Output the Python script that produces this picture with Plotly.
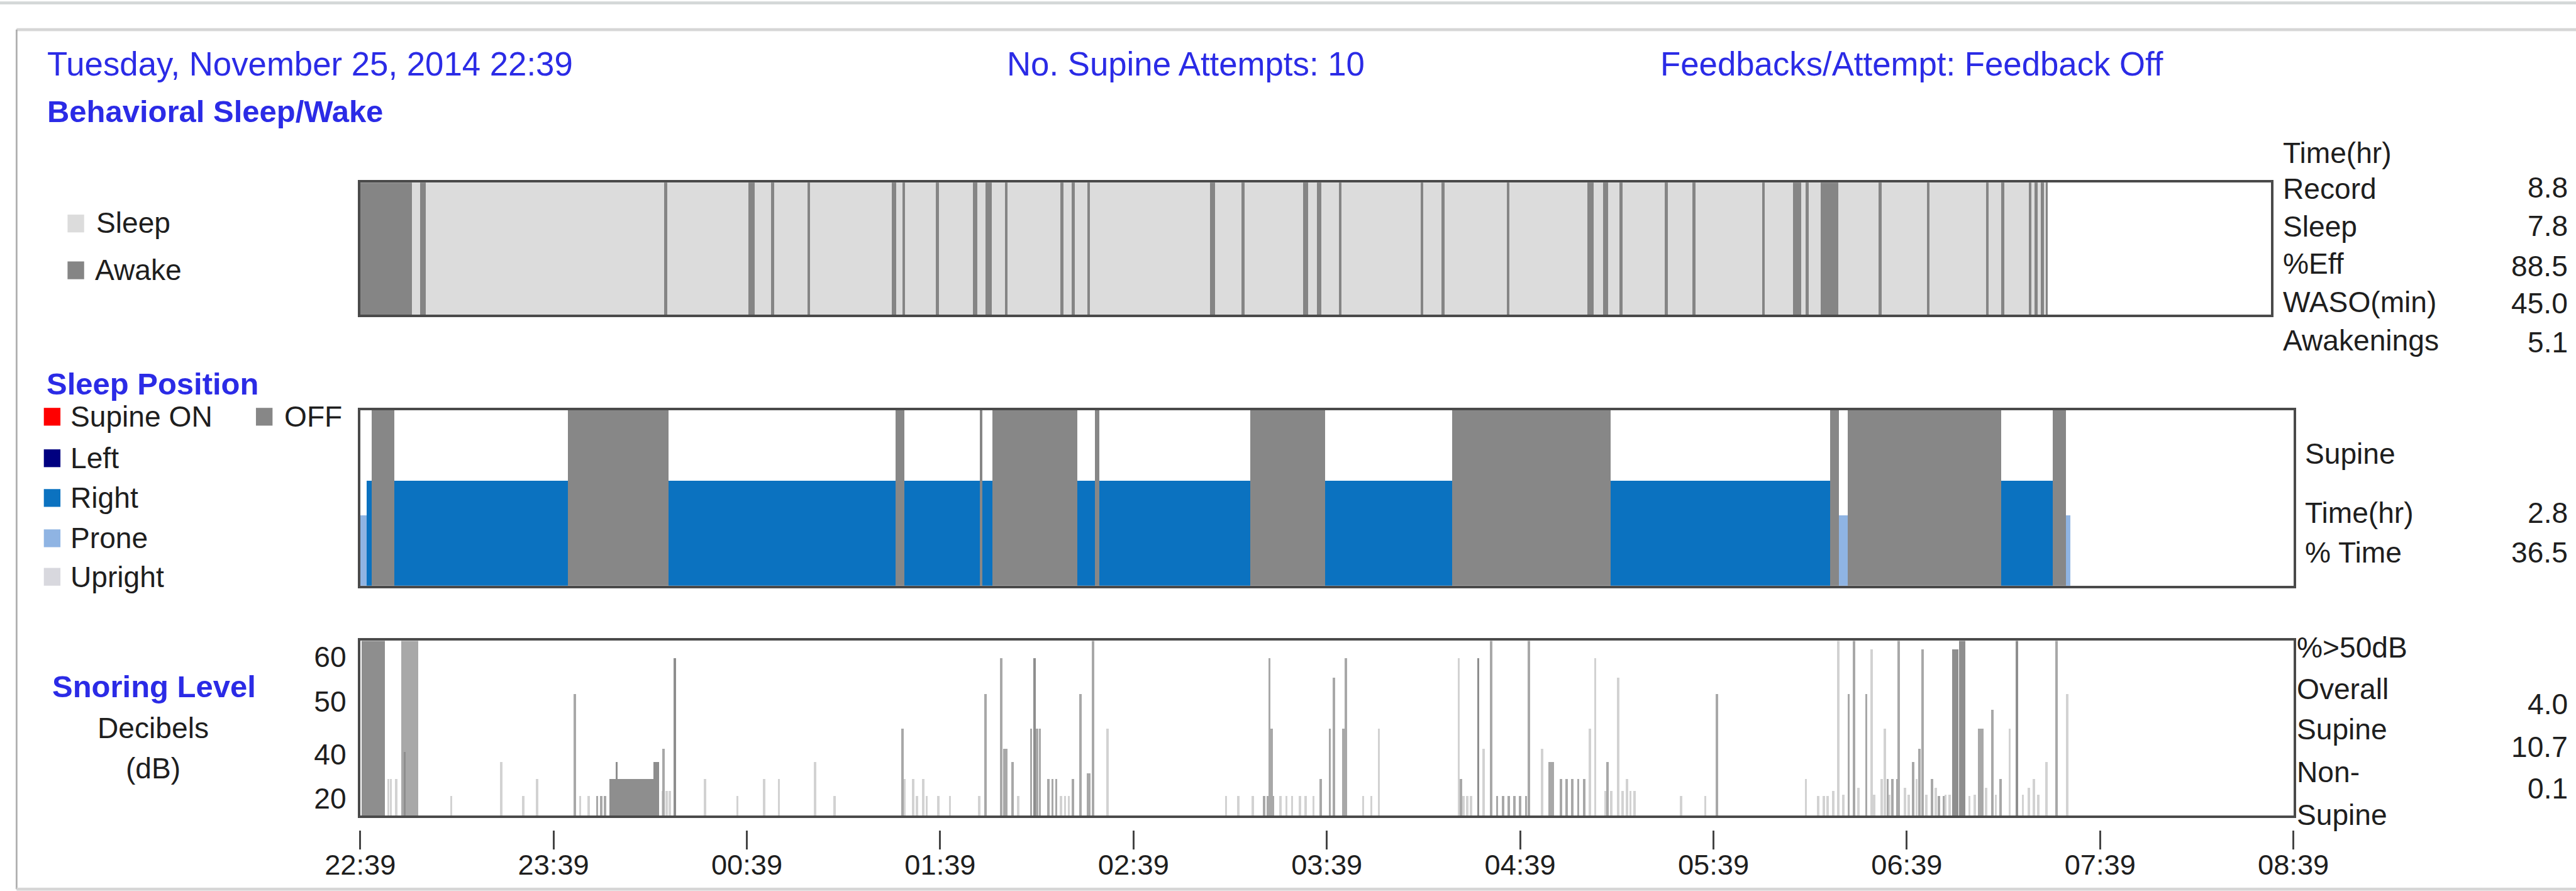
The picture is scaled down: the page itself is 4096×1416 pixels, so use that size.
import plotly.graph_objects as go

# ---------------- data (hours after 22:39) ----------------
tick_hours = [0, 1, 2, 3, 4, 5, 6, 7, 8, 9, 10]
tick_labels = ["22:39", "23:39", "00:39", "01:39", "02:39", "03:39",
               "04:39", "05:39", "06:39", "07:39", "08:39"]

record_end = 8.83
awake_start = [0.000, 0.313, 1.590, 2.031, 2.151, 2.340, 2.781, 2.836, 3.013, 3.206,
               3.271, 3.373, 3.664, 3.723, 3.804, 4.447, 4.613, 4.933, 5.008, 5.122,
               5.550, 5.658, 5.999, 6.422, 6.505, 6.591, 6.827, 6.973, 7.336, 7.498,
               7.565, 7.643, 7.946, 8.198, 8.508, 8.588, 8.731, 8.762, 8.796, 8.821]
awake_end = [0.270, 0.341, 1.605, 2.065, 2.166, 2.355, 2.803, 2.851, 3.028, 3.228,
             3.305, 3.388, 3.679, 3.738, 3.819, 4.474, 4.628, 4.961, 5.030, 5.136,
             5.564, 5.673, 6.014, 6.456, 6.530, 6.606, 6.842, 6.988, 7.350, 7.541,
             7.580, 7.736, 7.961, 8.212, 8.522, 8.603, 8.745, 8.777, 8.811, 8.830]

pos_start = [0.000, 0.031, 0.058, 0.175, 1.073, 1.594, 2.770, 2.813, 3.203, 3.218,
             3.270, 3.708, 3.800, 3.822, 4.603, 4.992, 5.648, 6.466, 7.603, 7.647,
             7.695, 8.489, 8.753, 8.823]
pos_end = [0.031, 0.058, 0.175, 1.073, 1.594, 2.770, 2.813, 3.203, 3.218, 3.270,
           3.708, 3.800, 3.822, 4.603, 4.992, 5.648, 6.466, 7.603, 7.647, 7.695,
           8.489, 8.753, 8.823, 8.845]
pos_state = ["Prone", "Right", "OFF", "Right", "OFF", "Right", "OFF", "Right", "OFF", "Right",
             "OFF", "Right", "OFF", "Right", "OFF", "Right", "OFF", "Right", "OFF", "Prone",
             "OFF", "Right", "OFF", "Prone"]
pos_level = {"OFF": 1.0, "Right": 0.6, "Prone": 0.4}

# snoring spikes: time (h) and level (dB); thin spikes share one width
spike_w = 0.012
snore_light_t = [0.145, 0.158, 0.186, 0.470, 0.728, 0.842, 0.915, 1.137, 1.180, 1.565,
                 1.585, 1.600, 1.782, 1.950, 2.089, 2.165, 2.352, 2.453, 2.814, 2.860,
                 2.880, 2.911, 2.930, 2.990, 3.050, 3.201, 3.402, 3.625, 3.645, 3.665,
                 3.865, 4.478, 4.542, 4.617, 4.760, 4.790, 4.820, 4.860, 4.890, 4.930,
                 5.187, 5.230, 5.269, 5.682, 5.705, 5.725, 5.745, 5.811, 6.112, 6.360,
                 6.388, 6.440, 6.470, 6.506, 6.530, 6.553, 6.570, 6.590, 6.832, 6.957,
                 7.478, 7.540, 7.570, 7.590, 7.620, 7.646, 7.670, 7.750, 7.818, 7.830,
                 7.870, 7.886, 7.910, 7.990, 8.010, 8.050, 8.100, 8.150, 8.200, 8.220,
                 8.323, 8.350, 8.410, 8.460, 8.532, 8.600, 8.630, 8.656, 8.680, 8.721,
                 8.829]
snore_light_db = [25.5, 25.5, 25.5, 20.7, 30.2, 20.7, 25.5, 20.7, 20.7, 22.0,
                  22.0, 22.0, 25.5, 20.7, 25.5, 25.5, 30.2, 20.7, 25.5, 25.5,
                  20.7, 25.5, 20.7, 20.7, 20.7, 20.7, 20.7, 20.7, 20.7, 20.7,
                  39.6, 20.7, 20.7, 20.7, 20.7, 20.7, 20.7, 20.7, 20.7, 20.7,
                  20.7, 20.7, 39.6, 59.5, 20.7, 20.7, 20.7, 34.0, 34.0, 39.6,
                  59.5, 22.0, 22.0, 54.0, 22.0, 25.5, 22.0, 22.0, 20.7, 20.7,
                  25.5, 20.7, 20.7, 20.7, 22.0, 66.0, 21.0, 23.0, 62.0, 21.0,
                  25.5, 39.6, 21.0, 23.0, 21.0, 25.5, 21.0, 23.0, 21.0, 21.0,
                  20.7, 21.0, 23.0, 21.0, 39.6, 21.0, 23.0, 25.5, 21.0, 30.2,
                  49.5]

snore_mid_t = [0.255, 1.109, 1.225, 1.245, 1.265, 1.567, 2.804, 3.234, 3.315, 3.330,
               3.338, 3.374, 3.470, 3.500, 3.515, 3.560, 3.580, 3.600, 3.686, 3.725,
               3.768, 3.789, 4.675, 4.695, 4.703, 4.714, 4.720, 4.968, 5.015, 5.037,
               5.084, 5.097, 5.693, 5.850, 5.880, 5.910, 5.940, 5.970, 6.000, 6.030,
               6.044, 6.160, 6.210, 6.240, 6.270, 6.300, 6.330, 6.452, 7.017, 7.699,
               7.727, 7.790, 7.900, 7.925, 7.950, 7.957, 8.033, 8.065, 8.080, 8.129,
               8.165, 8.190, 8.383, 8.441, 8.484, 8.775]
snore_mid_w = [0.086, 0.012, 0.012, 0.012, 0.012, 0.012, 0.012, 0.012, 0.012, 0.012,
               0.020, 0.012, 0.012, 0.012, 0.012, 0.012, 0.012, 0.012, 0.012, 0.012,
               0.020, 0.012, 0.012, 0.012, 0.012, 0.012, 0.012, 0.012, 0.012, 0.012,
               0.012, 0.012, 0.012, 0.012, 0.012, 0.012, 0.012, 0.012, 0.012, 0.012,
               0.012, 0.030, 0.012, 0.012, 0.012, 0.012, 0.012, 0.012, 0.012, 0.012,
               0.012, 0.012, 0.012, 0.012, 0.012, 0.012, 0.012, 0.012, 0.012, 0.012,
               0.012, 0.012, 0.030, 0.012, 0.012, 0.012]
snore_mid_db = [66.0, 49.5, 20.7, 20.7, 20.7, 34.0, 39.6, 49.5, 59.5, 34.0,
                34.0, 30.2, 39.6, 39.6, 39.6, 25.5, 25.5, 25.5, 25.5, 49.5,
                27.0, 66.0, 20.7, 20.7, 59.5, 39.6, 20.7, 25.5, 39.6, 54.0,
                39.6, 59.5, 25.5, 66.0, 20.7, 20.7, 20.7, 20.7, 20.7, 20.7,
                66.0, 30.2, 25.5, 25.5, 25.5, 25.5, 25.5, 30.2, 49.5, 49.5,
                66.0, 49.5, 25.5, 25.5, 25.5, 66.0, 30.2, 34.0, 62.0, 25.5,
                20.7, 20.7, 39.6, 45.0, 25.5, 66.0]

snore_dark_t = [0.067, 0.229, 1.326, 1.405, 1.530, 1.627, 3.488, 5.783, 8.250, 8.286, 8.570]
snore_dark_w = [0.118, 0.012, 0.012, 0.236, 0.030, 0.012, 0.012, 0.012, 0.030, 0.035, 0.012]
snore_dark_db = [66.0, 33.0, 30.2, 25.5, 30.2, 59.5, 59.5, 59.5, 62.0, 66.0, 66.0]

db_tick_vals = [60, 47.4, 32.4, 20]
db_tick_text = ["60", "50", "40", "20"]

sleep_stats_labels = ["Record", "Sleep", "%Eff", "WASO(min)", "Awakenings"]
sleep_stats_values = ["8.8", "7.8", "88.5", "45.0", "5.1"]
supine_labels = ["Time(hr)", "% Time"]
supine_values = ["2.8", "36.5"]
snore_labels = ["Overall", "Supine", "Non-", "Supine"]
snore_values = ["4.0", "10.7", "0.1"]

# ---------------- layout helpers ----------------
S = 0.942
RW, RH = 4348, 1503
FONT = "Liberation Sans, Arial, sans-serif"
BLUE = "#2b2be6"
INK = "#1e1e1e"


def px(X):
    return X / RW


def py(Y):
    return 1 - Y / RH


annotations = []


def ann(text, X, Y, size=49, color=INK, xanchor="left", bold=False):
    annotations.append(dict(
        text=f"<b>{text}</b>" if bold else text,
        x=px(X), y=py(Y), xref="paper", yref="paper",
        xanchor=xanchor, yanchor="middle", showarrow=False,
        font=dict(family=FONT, size=size * S, color=color)))


shapes = []


def rect(X0, Y0, X1, Y1, color):
    shapes.append(dict(type="rect", xref="paper", yref="paper",
                       x0=px(X0), x1=px(X1), y0=py(Y1), y1=py(Y0),
                       fillcolor=color, line=dict(width=0), layer="above"))


def hline(X0, X1, Y, color, w):
    shapes.append(dict(type="line", xref="paper", yref="paper",
                       x0=px(X0), x1=px(X1), y0=py(Y), y1=py(Y),
                       line=dict(color=color, width=w * S)))


def vline(X, Y0, Y1, color, w):
    shapes.append(dict(type="line", xref="paper", yref="paper",
                       x0=px(X), x1=px(X), y0=py(Y0), y1=py(Y1),
                       line=dict(color=color, width=w * S)))


fig = go.Figure()

# ---- panel 1 : sleep / wake ----
fig.add_trace(go.Bar(x=[record_end / 2], y=[1], width=[record_end], base=0,
                     marker=dict(color="#dcdcdc", line=dict(width=0)),
                     xaxis="x", yaxis="y", hoverinfo="skip", showlegend=False))
fig.add_trace(go.Bar(x=[(a + b) / 2 for a, b in zip(awake_start, awake_end)],
                     y=[1] * len(awake_start),
                     width=[b - a for a, b in zip(awake_start, awake_end)], base=0,
                     marker=dict(color="#858585", line=dict(width=0)),
                     xaxis="x", yaxis="y", hoverinfo="skip", showlegend=False))

# ---- panel 2 : position ----
pos_colors = {"OFF": "#878787", "Right": "#0b72c0", "Prone": "#8fb4e3"}
for state in ["Right", "Prone", "OFF"]:
    idx = [i for i, s in enumerate(pos_state) if s == state]
    fig.add_trace(go.Bar(
        x=[(pos_start[i] + pos_end[i]) / 2 for i in idx],
        y=[pos_level[state]] * len(idx),
        width=[pos_end[i] - pos_start[i] for i in idx], base=0,
        marker=dict(color=pos_colors[state], line=dict(width=0)),
        xaxis="x2", yaxis="y2", hoverinfo="skip", showlegend=False))

# ---- panel 3 : snoring ----
for t, w, d, c in [(snore_light_t, [spike_w] * len(snore_light_t), snore_light_db, "#d2d2d2"),
                   (snore_mid_t, snore_mid_w, snore_mid_db, "#a8a8a8"),
                   (snore_dark_t, snore_dark_w, snore_dark_db, "#8e8e8e")]:
    fig.add_trace(go.Bar(x=t, y=d, width=w, base=0,
                         marker=dict(color=c, line=dict(width=0)),
                         xaxis="x3", yaxis="y3", hoverinfo="skip", showlegend=False))

# invisible trace to carry the free time axis
fig.add_trace(go.Scatter(x=[0, 10], y=[30, 30], mode="markers",
                         marker=dict(opacity=0), xaxis="x4", yaxis="y3",
                         hoverinfo="skip", showlegend=False))

frame = dict(showline=True, mirror=True, linecolor="#4a4a4a", linewidth=4 * S,
             showgrid=False, zeroline=False, ticks="", fixedrange=True, automargin=False)

x1_dom = [px(608), px(3833)]
x23_dom = [px(608), px(3871)]

fig.update_layout(
    width=4096, height=1416,
    margin=dict(l=0, r=0, t=0, b=0, pad=0, autoexpand=False),
    paper_bgcolor="white", plot_bgcolor="white",
    barmode="overlay", bargap=0, showlegend=False,
    font=dict(family=FONT, color=INK),
    xaxis=dict(domain=x1_dom, range=[0, 10], anchor="y", showticklabels=False, **frame),
    yaxis=dict(domain=[py(531), py(308)], range=[0, 1], anchor="x", showticklabels=False, **frame),
    xaxis2=dict(domain=x23_dom, range=[0, 10], anchor="y2", showticklabels=False, **frame),
    yaxis2=dict(domain=[py(988), py(692)], range=[0, 1], anchor="x2", showticklabels=False, **frame),
    xaxis3=dict(domain=x23_dom, range=[0, 10], anchor="y3", showticklabels=False, **frame),
    yaxis3=dict(domain=[py(1376), py(1081)], range=[15.15, 64.52], anchor="x3",
                tickmode="array", tickvals=db_tick_vals, ticktext=db_tick_text,
                tickfont=dict(family=FONT, size=49 * S, color=INK),
                ticklabelstandoff=int(10 * S), **frame),
    xaxis4=dict(domain=x23_dom, range=[0, 10], overlaying="x3", anchor="free",
                position=py(1400), showline=False, showgrid=False, zeroline=False,
                ticks="outside", ticklen=32 * S, tickwidth=3 * S, tickcolor="#444",
                tickmode="array", tickvals=tick_hours, ticktext=tick_labels,
                tickfont=dict(family=FONT, size=48 * S, color=INK),
                ticklabelstandoff=-14, fixedrange=True, automargin=False),
)

# ---- page frame ----
hline(0, RW, 5, "#d4d8d8", 5)
hline(28, RW, 50, "#d6d6d6", 5)
vline(28, 50, 1500, "#b0b0b0", 3)
hline(28, RW, 1500, "#d6d6d6", 5)

# ---- headers ----
ann("Tuesday, November 25, 2014 22:39", 78, 108, 56, BLUE)
ann("No. Supine Attempts: 10", 1697, 108, 56, BLUE)
ann("Feedbacks/Attempt: Feedback Off", 2800, 108, 56, BLUE)

# ---- panel 1 text ----
ann("Behavioral Sleep/Wake", 77, 188, 52, BLUE, bold=True)
rect(114, 362, 142, 392, "#dcdcdc")
ann("Sleep", 160, 376)
rect(114, 441, 142, 471, "#858585")
ann("Awake", 158, 455)
ann("Time(hr)", 3851, 258)
for lab, Y in zip(sleep_stats_labels, [318, 382, 445, 510, 574]):
    ann(lab, 3851, Y)
for val, Y in zip(sleep_stats_values, [316, 381, 449, 512, 577]):
    ann(val, 4336, Y, xanchor="right")

# ---- panel 2 text ----
ann("Sleep Position", 76, 648, 52, BLUE, bold=True)
legend_items = [("Supine ON", "#ff0000", 703), ("Left", "#000080", 773),
                ("Right", "#0b72c0", 840), ("Prone", "#8fb4e3", 908),
                ("Upright", "#d8d8de", 973)]
for lab, col, Y in legend_items:
    rect(74, Y - 15, 102, Y + 15, col)
    ann(lab, 117, Y)
rect(432, 688, 460, 718, "#878787")
ann("OFF", 478, 703)
ann("Supine", 3888, 765)
for lab, Y in zip(supine_labels, [865, 932]):
    ann(lab, 3888, Y)
for val, Y in zip(supine_values, [865, 932]):
    ann(val, 4336, Y, xanchor="right")

# ---- panel 3 text ----
ann("Snoring Level", 260, 1158, 52, BLUE, xanchor="center", bold=True)
ann("Decibels", 258, 1228, xanchor="center")
ann("(dB)", 258, 1296, xanchor="center")
ann("%&gt;50dB", 3875, 1092)
for lab, Y in zip(snore_labels, [1162, 1230, 1302, 1375]):
    ann(lab, 3875, Y)
for val, Y in zip(snore_values, [1188, 1260, 1330]):
    ann(val, 4336, Y, xanchor="right")

fig.update_layout(annotations=annotations, shapes=shapes)
fig.write_html("out.html", config={"displayModeBar": False},
               post_script="document.body.style.margin='0';document.body.style.overflow='hidden';")
